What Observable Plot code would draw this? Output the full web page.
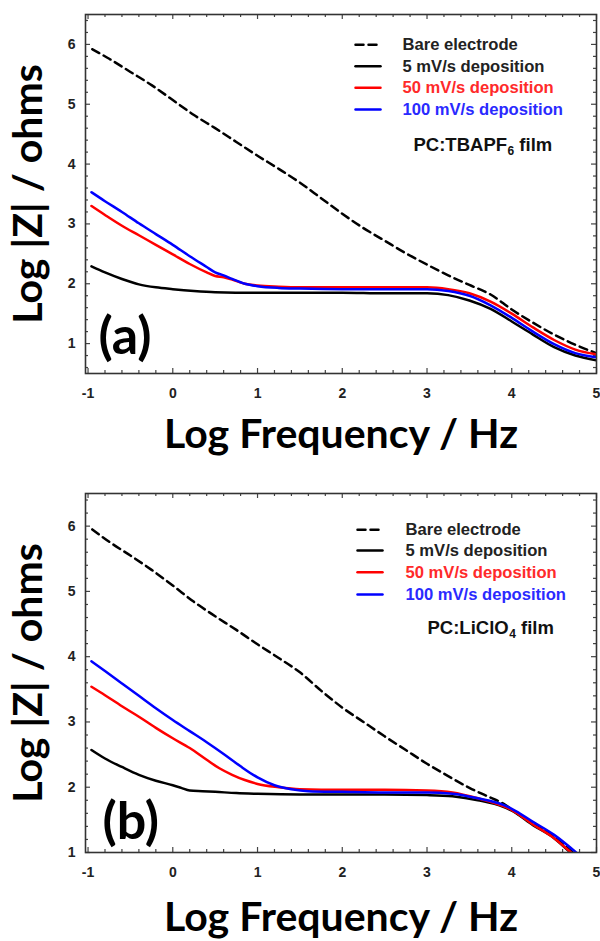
<!DOCTYPE html>
<html><head><meta charset="utf-8">
<script src="https://cdn.jsdelivr.net/npm/d3@7"></script>
<script src="https://cdn.jsdelivr.net/npm/@observablehq/plot@0.6"></script>
<style>
body{margin:0;background:#fff;width:600px;}
#chart svg{display:block}
</style></head><body><div id="chart"></div>
<script>
// ---------- Data: panel (a) PC:TBAPF6 film ----------
const aBareX = [-0.95,-0.75,-0.5,-0.25,0,0.25,0.5,0.75,1,1.25,1.5,1.75,2,2.25,2.5,2.75,3,3.25,3.5,3.75,4,4.25,4.5,4.75,5];
const aBareY = [5.92,5.76,5.54,5.32,5.07,4.82,4.6,4.37,4.14,3.92,3.69,3.43,3.17,2.93,2.72,2.51,2.32,2.14,1.98,1.82,1.57,1.35,1.15,0.98,0.84];
const a5X = [-0.96,-0.8,-0.6,-0.4,-0.2,0,0.25,0.5,1,1.5,2,2.5,3,3.25,3.5,3.75,4,4.25,4.5,4.75,5];
const a5Y = [2.29,2.19,2.08,1.99,1.94,1.91,1.88,1.86,1.85,1.85,1.85,1.84,1.84,1.81,1.72,1.58,1.37,1.15,0.94,0.8,0.72];
const a50X = [-0.96,-0.8,-0.6,-0.4,-0.2,0,0.2,0.4,0.5,0.6,0.7,0.85,1,1.25,1.5,2,2.5,3,3.25,3.5,3.75,4,4.25,4.5,4.75,5];
const a50Y = [3.30,3.15,2.97,2.81,2.65,2.49,2.33,2.19,2.13,2.11,2.07,2.00,1.97,1.95,1.94,1.94,1.94,1.94,1.91,1.84,1.70,1.50,1.27,1.06,0.90,0.82];
const a100X = [-0.96,-0.8,-0.6,-0.4,-0.2,0,0.2,0.4,0.5,0.6,0.7,0.85,1,1.25,1.5,2,2.5,3,3.25,3.5,3.75,4,4.25,4.5,4.75,5];
const a100Y = [3.53,3.38,3.20,3.01,2.83,2.65,2.46,2.28,2.19,2.14,2.08,2.00,1.96,1.93,1.92,1.91,1.91,1.91,1.88,1.80,1.64,1.43,1.20,0.99,0.84,0.77];

// ---------- Data: panel (b) PC:LiClO4 film ----------
const bBareX = [-0.95,-0.75,-0.5,-0.25,0,0.25,0.5,0.75,1,1.25,1.5,1.75,2,2.25,2.5,2.75,3,3.25,3.5,3.75,3.9,4,4.25,4.5,4.72];
const bBareY = [5.95,5.76,5.55,5.33,5.09,4.84,4.62,4.41,4.19,3.98,3.76,3.48,3.22,3.0,2.78,2.57,2.36,2.17,1.99,1.84,1.75,1.66,1.44,1.24,1.0];
const b5X = [-0.96,-0.8,-0.6,-0.4,-0.2,0,0.1,0.2,0.35,0.5,0.75,1,1.5,2,2.5,3,3.3,3.6,3.9,4,4.25,4.5,4.69];
const b5Y = [2.57,2.44,2.31,2.19,2.10,2.03,1.99,1.95,1.94,1.93,1.91,1.90,1.89,1.89,1.89,1.88,1.86,1.80,1.70,1.64,1.42,1.22,1.0];
const b50X = [-0.96,-0.8,-0.6,-0.4,-0.2,0,0.2,0.4,0.55,0.7,0.85,1,1.25,1.5,2,2.5,3,3.3,3.6,3.9,4,4.25,4.5,4.7];
const b50Y = [3.54,3.41,3.24,3.08,2.91,2.75,2.60,2.42,2.29,2.19,2.11,2.05,2.00,1.97,1.96,1.96,1.95,1.92,1.83,1.71,1.65,1.43,1.22,1.0];
const b100X = [-0.96,-0.8,-0.6,-0.4,-0.2,0,0.2,0.4,0.6,0.8,1,1.2,1.4,1.6,2,2.5,3,3.3,3.6,3.9,4,4.25,4.5,4.76];
const b100Y = [3.93,3.78,3.59,3.40,3.21,3.03,2.86,2.69,2.51,2.32,2.15,2.03,1.97,1.94,1.93,1.92,1.92,1.90,1.83,1.73,1.67,1.47,1.27,1.0];

// ---------- Labels & ticks ----------
const seriesNames = ["Bare electrode", "5 mV/s deposition", "50 mV/s deposition", "100 mV/s deposition"];
const seriesColors = ["#000000", "#000000", "#ff0000", "#0000ff"];
const legendTextColors = ["#222222", "#222222", "#ff2a2a", "#2a2aff"];
const filmParts = [["PC:TBAPF", "6", " film"], ["PC:LiClO", "4", " film"]];
const panelLabels = ["(a)", "(b)"];
const xTickValues = [-1, 0, 1, 2, 3, 4, 5];
const yTickValues = [1, 2, 3, 4, 5, 6];
const xTitle = "Log Frequency / Hz";
const yTitle = "Log |Z| / ohms";

const TICK_FONT = "'Liberation Sans', Arial, sans-serif";
const TITLE_FONT = "Lato, 'Open Sans', sans-serif";

const toTable = (xs, ys) => xs.map((x, i) => ({x, y: ys[i]}));
const lineShape = {draw(ctx, l) { ctx.moveTo(0, 0); ctx.lineTo(0, -l); }};
const measureCtx = document.createElement("canvas").getContext("2d");
function textWidth(str, size) {
  measureCtx.font = `bold ${size}px 'Liberation Sans', Arial, sans-serif`;
  return measureCtx.measureText(str).width;
}

function panel(cfg) {
  const W = 600, mL = 85, mR = 4;
  const plotW = W - mL - mR;
  const plotH = cfg.height - cfg.marginTop - cfg.marginBottom;
  const xMinor = d3.range(-5, 26).map(i => i / 5).filter(v => !xTickValues.includes(v));
  const yMinor = d3.range(Math.round(cfg.yDomain[0] * 5), Math.round(cfg.yDomain[1] * 5) + 1).map(i => i / 5)
    .filter(v => !yTickValues.includes(v) && v > cfg.yDomain[0] && v < cfg.yDomain[1]);
  const yMajor = yTickValues.filter(v => v >= cfg.yDomain[0] && v <= cfg.yDomain[1]);
  const tickStroke = {stroke: "#444", strokeWidth: 1.2};
  const marks = [];
  // ticks, inward on all four sides
  for (const [vals, len] of [[xTickValues, 5], [xMinor, 3]]) {
    marks.push(Plot.tickX(vals, {x: d => d, insetTop: plotH - len, ...tickStroke}));
    marks.push(Plot.tickX(vals, {x: d => d, insetBottom: plotH - len, ...tickStroke}));
  }
  for (const [vals, len] of [[yMajor, 5], [yMinor, 3]]) {
    marks.push(Plot.tickY(vals, {y: d => d, insetRight: plotW - len, ...tickStroke}));
    marks.push(Plot.tickY(vals, {y: d => d, insetLeft: plotW - len, ...tickStroke}));
  }
  // data lines
  const styles = [
    {stroke: seriesColors[0], strokeDasharray: "8,5"},
    {stroke: seriesColors[1]},
    {stroke: seriesColors[2]},
    {stroke: seriesColors[3]}
  ];
  cfg.series.forEach((tbl, i) => {
    marks.push(Plot.line(tbl, {x: "x", y: "y", strokeWidth: 2.5, clip: true, curve: "monotone-x", ...styles[i]}));
  });
  marks.push(Plot.frame({stroke: "#333", strokeWidth: 1.6}));
  // axes
  marks.push(Plot.axisX({ticks: xTickValues, tickSize: 0, tickPadding: 15, tickFormat: d => String(d),
    fontSize: 14, fontWeight: "bold", fontFamily: TICK_FONT, fill: "#222", label: null}));
  marks.push(Plot.axisY({ticks: yMajor, tickSize: 0, tickPadding: 10, tickFormat: d => String(d),
    fontSize: 14, fontWeight: "bold", fontFamily: TICK_FONT, fill: "#222", label: null}));
  // titles
  marks.push(Plot.text([xTitle], {text: d => d, frameAnchor: "bottom", dy: cfg.xTitleDy, lineAnchor: "bottom",
    textAnchor: "middle", fontSize: 41, fontWeight: "bold", fontFamily: TITLE_FONT, fill: "#000"}));
  marks.push(Plot.text([yTitle], {text: d => d, frameAnchor: "left", dx: -57, rotate: -90, lineAnchor: "middle",
    textAnchor: "middle", fontSize: 41, fontWeight: "bold", fontFamily: TITLE_FONT, fill: "#000"}));
  marks.push(Plot.text([cfg.panelLabel], {text: d => d, frameAnchor: "bottom-left", dx: cfg.labelDx, dy: cfg.labelDy,
    lineAnchor: "bottom", textAnchor: "start", fontSize: 52, fontWeight: "bold", fontFamily: TITLE_FONT, fill: "#000"}));
  // legend
  seriesNames.forEach((name, i) => {
    const dy = cfg.legendDy[i];
    marks.push(Plot.vector([0], {frameAnchor: "top-left", dx: cfg.legendLineDx, dy, rotate: 90, length: 25,
      anchor: "start", shape: lineShape, strokeWidth: 2.5, ...styles[i]}));
    marks.push(Plot.text([name], {text: d => d, frameAnchor: "top-left", dx: cfg.legendTextDx, dy,
      lineAnchor: "middle", textAnchor: "start", fontSize: 16.6, fontWeight: "bold", fontFamily: TICK_FONT,
      fill: legendTextColors[i]}));
  });
  // film label with subscript
  const [main, sub, tail] = cfg.film;
  const FS = 18.5, SS = 12;
  const wMain = textWidth(main, FS), wSub = textWidth(sub, SS);
  const filmText = (s, dx, dy, size) => Plot.text([s], {text: d => d, frameAnchor: "top-left", dx, dy,
    lineAnchor: "bottom", textAnchor: "start", fontSize: size, fontWeight: "bold", fontFamily: TICK_FONT, fill: "#111"});
  marks.push(filmText(main, cfg.filmDx, cfg.filmDy, FS));
  marks.push(filmText(sub, cfg.filmDx + wMain + 0.5, cfg.filmDy + 4, SS));
  marks.push(filmText(tail, cfg.filmDx + wMain + wSub + 0.5, cfg.filmDy, FS));

  return Plot.plot({
    width: W, height: cfg.height,
    marginTop: cfg.marginTop, marginBottom: cfg.marginBottom, marginLeft: mL, marginRight: mR,
    x: {domain: [-1.03, 5.0]},
    y: {domain: cfg.yDomain},
    style: {background: "white", fontFamily: TICK_FONT, overflow: "visible"},
    marks
  });
}

const chart = document.getElementById("chart");
chart.append(panel({
  height: 460, marginTop: 14, marginBottom: 87, yDomain: [0.5, 6.5],
  series: [toTable(aBareX, aBareY), toTable(a5X, a5Y), toTable(a50X, a50Y), toTable(a100X, a100Y)],
  legendDy: [30.3, 51.7, 73.3, 95], legendLineDx: 270, legendTextDx: 317,
  film: filmParts[0], filmDx: 328, filmDy: 136,
  panelLabel: panelLabels[0], labelDx: 13, labelDy: -20, xTitleDy: 74
}));
chart.append(panel({
  height: 481, marginTop: 33, marginBottom: 89, yDomain: [1, 6.5],
  series: [toTable(bBareX, bBareY), toTable(b5X, b5Y), toTable(b50X, b50Y), toTable(b100X, b100Y)],
  legendDy: [36.3, 57, 78.7, 101], legendLineDx: 272, legendTextDx: 320,
  film: filmParts[1], filmDx: 342, filmDy: 140,
  panelLabel: panelLabels[1], labelDx: 17, labelDy: -14, xTitleDy: 78
}));
</script></body></html>
